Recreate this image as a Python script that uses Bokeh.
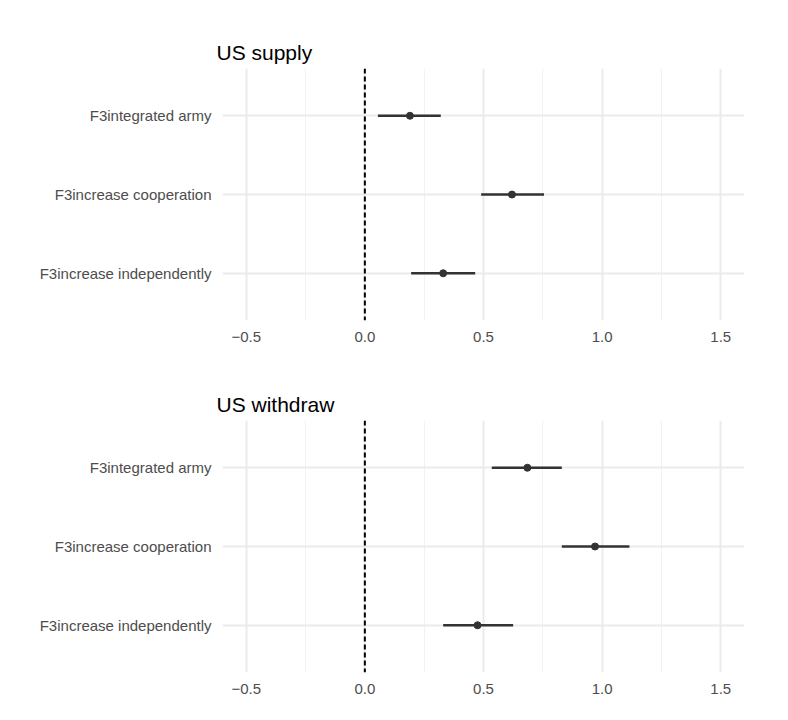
from bokeh.plotting import figure
from bokeh.layouts import column
from bokeh.models import Span, FixedTicker, Range1d
from bokeh.embed import file_html
from bokeh.resources import INLINE

terms = ["F3integrated army", "F3increase cooperation", "F3increase independently"]
supply_est = [0.19, 0.62, 0.33]
supply_lo = [0.055, 0.49, 0.195]
supply_hi = [0.32, 0.755, 0.465]
withdraw_est = [0.685, 0.97, 0.475]
withdraw_lo = [0.535, 0.83, 0.33]
withdraw_hi = [0.83, 1.115, 0.625]
xticks = [-0.5, 0.0, 0.5, 1.0, 1.5]

def panel(title, est, lo, hi, top):
    p = figure(width=780, height=352 + top - 60, output_backend="svg", toolbar_location=None,
               x_range=Range1d(-0.6, 1.6), y_range=Range1d(0.4, 3.6),
               min_border_left=222, min_border_right=36, min_border_top=top, min_border_bottom=40,
               title=title)
    p.title.text_font = "Liberation Sans"
    p.title.text_font_size = "21px"
    p.title.text_font_style = "normal"
    p.title.text_color = "black"
    p.title.offset = -6
    ys = [3, 2, 1]
    p.segment(x0=lo, x1=hi, y0=ys, y1=ys, line_color="#333333", line_width=2.5)
    p.scatter(x=est, y=ys, size=7, color="#333333")
    p.add_layout(Span(location=0, dimension="height", line_color="black", line_dash="5 3", line_width=2))
    p.outline_line_color = None
    for ax in (p.xaxis, p.yaxis):
        ax.axis_line_color = None
        ax.major_tick_line_color = None
        ax.minor_tick_line_color = None
        ax.major_label_text_font = "Liberation Sans"
        ax.major_label_text_font_size = "15px"
        ax.major_label_text_color = "#4d4d4d"
    p.xaxis.ticker = FixedTicker(ticks=xticks, minor_ticks=[-0.25, 0.25, 0.75, 1.25])
    p.xaxis.major_label_overrides = {-0.5: "\u22120.5", 0.0: "0.0", 0.5: "0.5", 1.0: "1.0", 1.5: "1.5"}
    p.yaxis.ticker = FixedTicker(ticks=ys)
    p.yaxis.major_label_overrides = {3: terms[0], 2: terms[1], 1: terms[2]}
    p.xgrid.grid_line_color = "#ebebeb"
    p.xgrid.grid_line_width = 2
    p.xgrid.minor_grid_line_color = "#f2f2f2"
    p.xgrid.minor_grid_line_width = 1
    p.ygrid.grid_line_color = "#ebebeb"
    p.ygrid.grid_line_width = 2
    return p

p1 = panel("US supply", supply_est, supply_lo, supply_hi, 68)
p2 = panel("US withdraw", withdraw_est, withdraw_lo, withdraw_hi, 60)
p = column(p1, p2, spacing=-4)
open("out.html", "w").write(file_html(p, INLINE))
